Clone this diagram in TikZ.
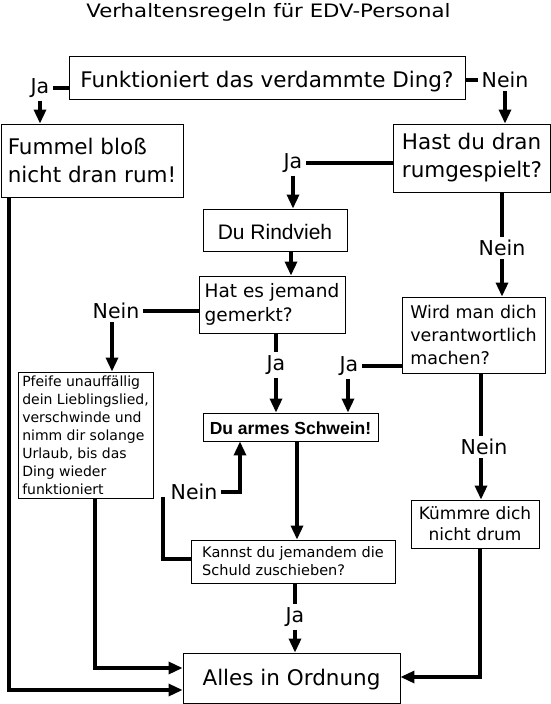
\documentclass[tikz,border=0pt]{standalone}
\usepackage{fontspec}
\setmainfont{DejaVu Sans}
\newfontfamily\arialfont{Liberation Sans}
\newfontfamily\titlefont[FakeStretch=1.15]{DejaVu Sans}
\usetikzlibrary{arrows.meta}
\begin{document}
\begin{tikzpicture}[x=1pt,y=-1pt,
  box/.style={draw, line width=0.9pt, inner sep=0pt},
  conn/.style={line width=3.2pt},
  arr/.style={conn, -{Triangle[length=14pt,width=12pt]}},
  lbl/.style={inner sep=3pt, font=\fontsize{20.5}{24}\selectfont},
]
\useasboundingbox (0,0) rectangle (550,704);

% title
\node[anchor=base, font=\titlefont\fontsize{18.5}{22}\selectfont] (title) at (268.5,17) {Verhaltensregeln für EDV-Personal};

% boxes
\node[box, minimum width=396pt, minimum height=43pt, text height=31pt, text depth=12pt,
      font=\fontsize{21.5}{26}\selectfont] (b1) at (267,77.5) {Funktioniert das verdammte Ding?};
\node[box, minimum width=182pt, minimum height=73pt, align=left,
      font=\fontsize{21.5}{28}\selectfont] (b2) at (92,160.5) {Fummel bloß\\nicht dran rum!};
\node[box, minimum width=157pt, minimum height=68pt, align=left,
      font=\fontsize{21.5}{28}\selectfont] (b3) at (472,158) {Hast du dran\\rumgespielt?};
\node[box, minimum width=144pt, minimum height=42pt, text height=30pt, text depth=12pt,
      font=\arialfont\fontsize{21}{25}\selectfont] (b4) at (275,230) {Du Rindvieh};
\node[box, minimum width=146pt, minimum height=57pt, align=left,
      font=\fontsize{18.5}{24}\selectfont] (b5) at (272,304.5) {Hat es jemand\\gemerkt?};
\node[box, minimum width=135pt, minimum height=126pt, align=left,
      font=\fontsize{14}{18}\selectfont] (b6) at (85.5,435) {Pfeife unauffällig\\dein Lieblingslied,\\verschwinde und\\nimm dir solange\\Urlaub, bis das\\Ding wieder\\funktioniert};
\node[box, minimum width=143pt, minimum height=76pt, align=left,
      font=\fontsize{17.5}{23}\selectfont] (b7) at (473.5,335) {Wird man dich\\verantwortlich\\machen?};
\node[box, minimum width=175pt, minimum height=28pt, text height=21pt, text depth=7pt,
      font=\arialfont\bfseries\fontsize{17.5}{21}\selectfont] (b8) at (290.5,427) {Du armes Schwein!};
\node[box, minimum width=128pt, minimum height=48pt, align=center,
      font=\fontsize{17}{21}\selectfont] (b9) at (475,524) {Kümmre dich\\nicht drum};
\node[box, minimum width=204pt, minimum height=43pt, align=left,
      font=\fontsize{14.5}{18}\selectfont] (b10) at (293,561.5) {Kannst du jemandem die\\Schuld zuschieben?};
\node[box, minimum width=217pt, minimum height=50pt, text height=32pt, text depth=18pt,
      font=\fontsize{21.5}{26}\selectfont] (b11) at (291.5,678) {Alles in Ordnung};

% labels
\node[lbl] (ja1) at (40,88) {Ja};
\node[lbl] (nein1) at (505,80) {Nein};
\node[lbl] (ja2) at (293,163) {Ja};
\node[lbl] (nein2) at (116,311) {Nein};
\node[lbl] (ja3) at (276,365) {Ja};
\node[lbl] (nein3) at (502,248) {Nein};
\node[lbl] (ja4) at (349,366) {Ja};
\node[lbl] (nein4) at (484,447) {Nein};
\node[lbl] (nein5) at (194,492) {Nein};
\node[lbl] (ja5) at (295,617) {Ja};

% columns / levels
\coordinate (xD) at (291,0);
\coordinate (xE) at (112,0);
\coordinate (xF) at (276,0);
\coordinate (xG) at (502,0);
\coordinate (xH) at (348,0);
\coordinate (xI) at (481,0);
\coordinate (xJ) at (297,0);
\coordinate (xK) at (240,0);
\coordinate (xM) at (295,0);
\coordinate (xN) at (95,0);
\coordinate (xO) at (9,0);
\coordinate (xP) at (480,0);
\coordinate (yA) at (0,668);
\coordinate (yB) at (0,690);
\coordinate (yC) at (0,677);
\coordinate (yD) at (0,559);
\coordinate (cL) at (163,497);

% connectors
\draw[conn] (b1.west |- ja1) -- (ja1.east);
\draw[arr] (ja1.south) -- (ja1 |- b2.north);
\draw[conn] (b1.east |- nein1) -- (nein1.west);
\draw[arr] (nein1.south) -- (nein1 |- b3.north);
\draw[conn] (b3.west |- ja2) -- (ja2.east);
\draw[arr] (ja2.south) -- (ja2 |- b4.north);
\draw[arr] (xD |- b4.south) -- (xD |- b5.north);
\draw[conn] (b5.west |- nein2) -- (nein2.east);
\draw[arr] (xE |- nein2.south) -- (xE |- b6.north);
\draw[conn] (xF |- b5.south) -- (ja3.north);
\draw[arr] (ja3.south) -- (ja3 |- b8.north);
\draw[conn] (xG |- b3.south) -- (nein3.north);
\draw[arr] (nein3.south) -- (nein3 |- b7.north);
\draw[conn] (b7.west |- ja4) -- (ja4.east);
\draw[arr] (xH |- ja4.south) -- (xH |- b8.north);
\draw[conn] (xI |- b7.south) -- (xI |- nein4.north);
\draw[arr] (xI |- nein4.south) -- (xI |- b9.north);
\draw[arr] (xJ |- b8.south) -- (xJ |- b10.north);
\draw[conn] (b10.west |- yD) -| (cL);
\draw[arr] (nein5.east) -| (xK |- b8.south);
\draw[conn] (xM |- b10.south) -- (ja5.north);
\draw[arr] (ja5.south) -- (ja5 |- b11.north);
\draw[arr] (xN |- b6.south) |- (b11.west |- yA);
\draw[arr] (xO |- b2.south) |- (b11.west |- yB);
\draw[arr] (xP |- b9.south) |- (b11.east |- yC);
\end{tikzpicture}
\end{document}
